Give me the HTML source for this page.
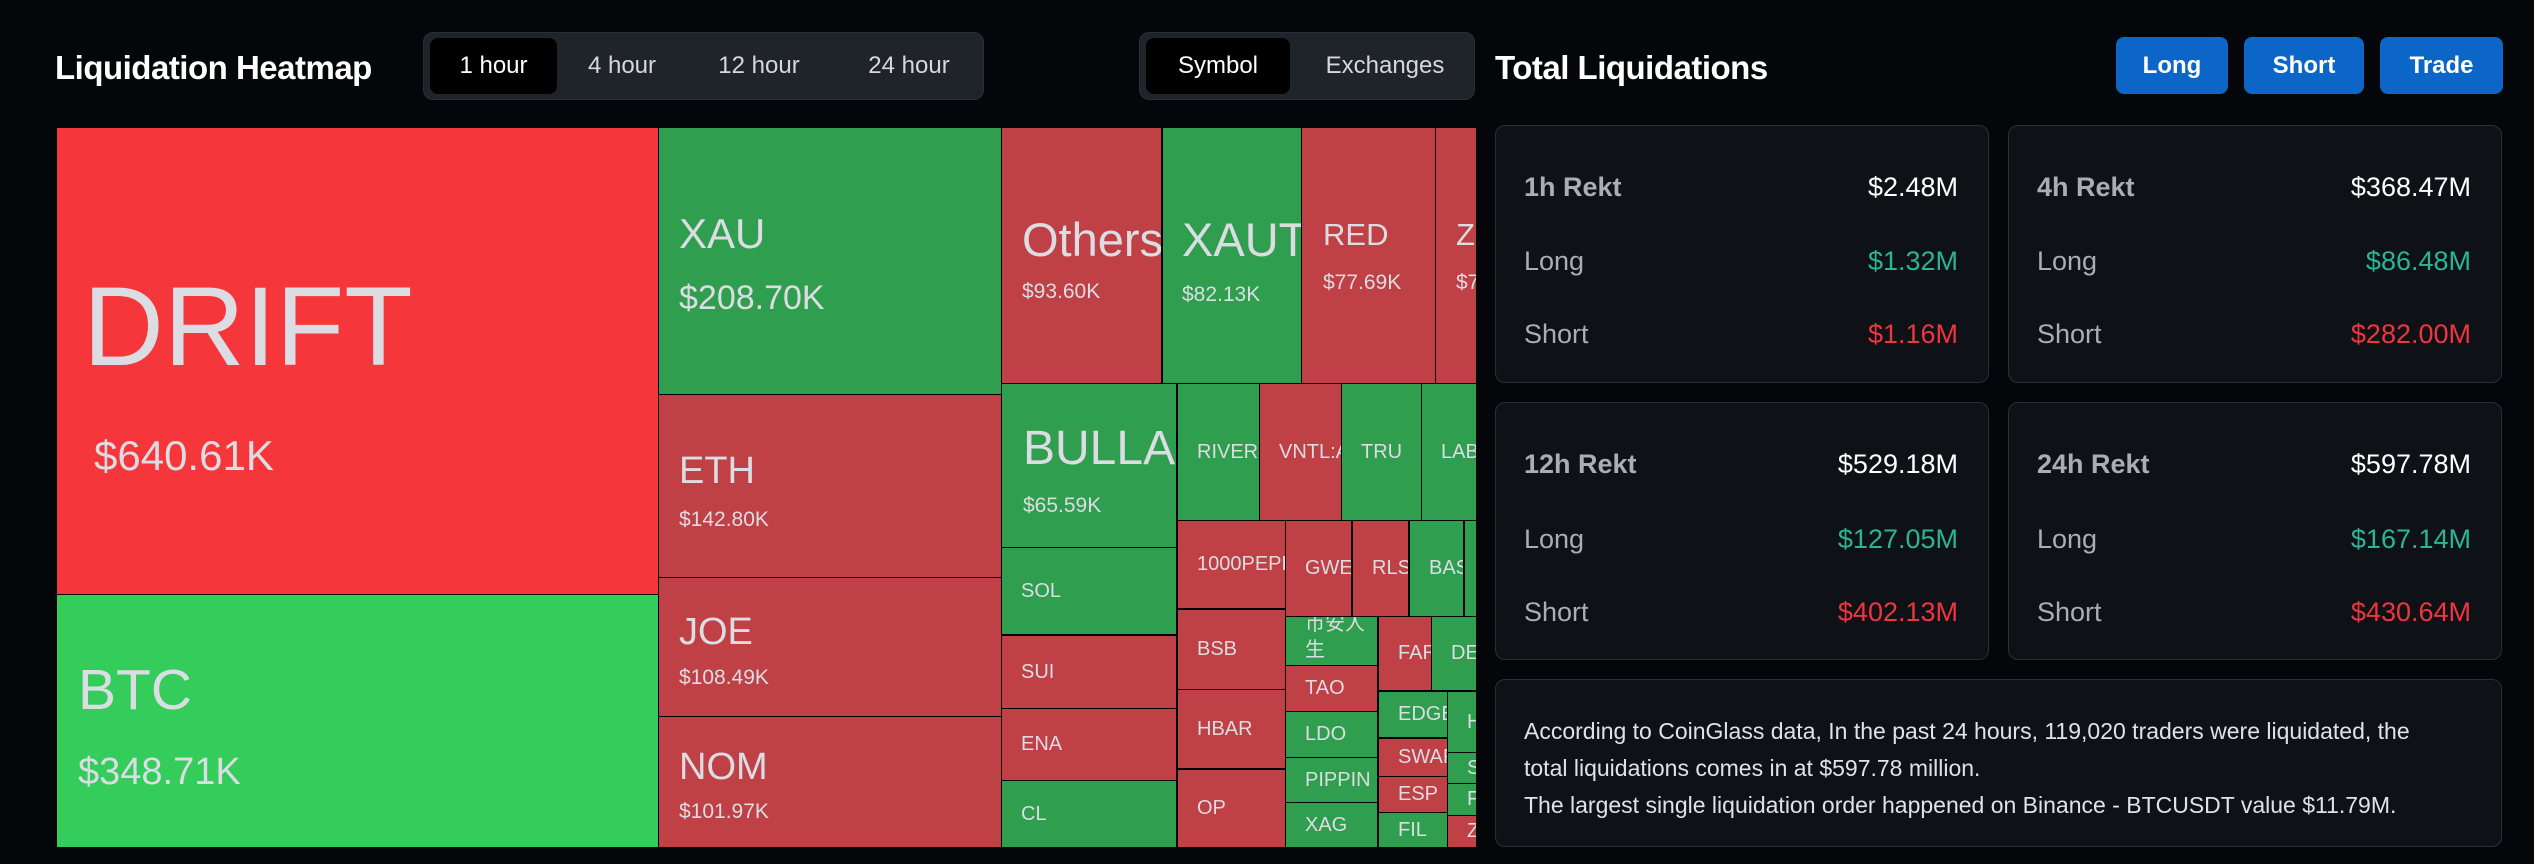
<!DOCTYPE html>
<html><head><meta charset="utf-8"><style>
*{margin:0;padding:0;box-sizing:border-box}
body{width:2534px;height:864px;background:#05060a;font-family:"Liberation Sans","Noto Sans CJK SC",sans-serif;position:relative;overflow:hidden;color:#fff}
.a{position:absolute}
.tm{position:absolute;left:57px;top:128px;width:1419px;height:719px;background:#000;overflow:hidden}
.c{position:absolute;overflow:hidden;color:#dcdde3}
.c span{position:absolute;line-height:1;white-space:nowrap}
.R{background:#bf4045}.G{background:#2f9e4f}.BR{background:#f5363a}.BG{background:#34cc5a}
.s{display:flex;align-items:center;padding-left:19px;font-size:20px;white-space:nowrap}
.tabs{position:absolute;background:#1f232a;border-radius:10px;border:1px solid #2a2e35}
.tab{position:absolute;top:0;height:100%;display:flex;align-items:center;justify-content:center;font-size:24px;color:#d6d8dc}
.act{background:#000;border-radius:8px;color:#fff}
.btn{position:absolute;top:37px;height:57px;background:#0b66c8;border-radius:8px;color:#fff;font-weight:bold;font-size:24px;display:flex;align-items:center;justify-content:center}
.card{position:absolute;background:#0e1217;border:1px solid #2a2f37;border-radius:10px;width:494px;height:258px}
.card div{position:absolute;font-size:27px;line-height:1}
.l{left:28px;color:#a9adb4}
.v{right:30px;color:#fff}
.g{color:#2bb596!important}.r{color:#f0353f!important}
.h{font-weight:600}
</style></head><body>
<div class="a" style="left:55px;top:49px;font-size:33px;font-weight:bold;letter-spacing:-0.5px">Liquidation Heatmap</div>
<div class="tabs" style="left:423px;top:32px;width:561px;height:68px">
<div class="tab act" style="left:6px;top:5px;height:56px;width:127px">1 hour</div>
<div class="tab" style="left:138px;width:120px">4 hour</div>
<div class="tab" style="left:265px;width:140px">12 hour</div>
<div class="tab" style="left:410px;width:150px">24 hour</div>
</div>
<div class="tabs" style="left:1139px;top:32px;width:336px;height:68px">
<div class="tab act" style="left:6px;top:5px;height:56px;width:144px">Symbol</div>
<div class="tab" style="left:155px;width:180px">Exchanges</div>
</div>

<div class="tm">
<div class="c BR" style="left:0;top:0;width:601px;height:466px"><span style="left:26px;top:143px;font-size:112px">DRIFT</span><span style="left:37px;top:307px;font-size:42px">$640.61K</span></div>
<div class="c BG" style="left:0;top:467px;width:601px;height:252px"><span style="left:21px;top:67px;font-size:57px">BTC</span><span style="left:21px;top:158px;font-size:38px">$348.71K</span></div>
<div class="c G" style="left:602px;top:0;width:342px;height:266px"><span style="left:20px;top:85px;font-size:42px">XAU</span><span style="left:20px;top:153px;font-size:34px">$208.70K</span></div>
<div class="c R" style="left:602px;top:267px;width:342px;height:182px"><span style="left:20px;top:57px;font-size:38px">ETH</span><span style="left:20px;top:114px;font-size:21px">$142.80K</span></div>
<div class="c R" style="left:602px;top:450px;width:342px;height:138px"><span style="left:20px;top:35px;font-size:38px">JOE</span><span style="left:20px;top:89px;font-size:21px">$108.49K</span></div>
<div class="c R" style="left:602px;top:589px;width:342px;height:130px"><span style="left:20px;top:31px;font-size:38px">NOM</span><span style="left:20px;top:84px;font-size:21px">$101.97K</span></div>
<div class="c R" style="left:945px;top:0;width:159px;height:255px"><span style="left:20px;top:88px;font-size:47px">Others</span><span style="left:20px;top:153px;font-size:21px">$93.60K</span></div>
<div class="c G" style="left:1106px;top:0;width:138px;height:255px"><span style="left:19px;top:88px;font-size:47px">XAUT</span><span style="left:19px;top:156px;font-size:21px">$82.13K</span></div>
<div class="c R" style="left:1245px;top:0;width:133px;height:255px"><span style="left:21px;top:91px;font-size:31px">RED</span><span style="left:21px;top:144px;font-size:21px">$77.69K</span></div>
<div class="c R" style="left:1379px;top:0;width:40px;height:255px"><span style="left:20px;top:91px;font-size:31px">Z</span><span style="left:20px;top:144px;font-size:21px">$77K</span></div>
<div class="c G" style="left:945px;top:256px;width:174px;height:163px"><span style="left:21px;top:41px;font-size:48px">BULLA</span><span style="left:21px;top:111px;font-size:21px">$65.59K</span></div>
<div class="c G s" style="left:1121px;top:256px;width:81px;height:136px">RIVER</div>
<div class="c R s" style="left:1203px;top:256px;width:81px;height:136px">VNTL:A</div>
<div class="c G s" style="left:1285px;top:256px;width:79px;height:136px">TRU</div>
<div class="c G s" style="left:1365px;top:256px;width:54px;height:136px">LAB</div>
<div class="c G s" style="left:945px;top:420px;width:174px;height:86px">SOL</div>
<div class="c R s" style="left:945px;top:508px;width:174px;height:72px">SUI</div>
<div class="c R s" style="left:945px;top:581px;width:174px;height:71px">ENA</div>
<div class="c G s" style="left:945px;top:653px;width:174px;height:66px">CL</div>
<div class="c R s" style="left:1121px;top:393px;width:107px;height:87px">1000PEPE</div>
<div class="c R s" style="left:1229px;top:393px;width:65px;height:95px">GWEI</div>
<div class="c R s" style="left:1296px;top:393px;width:55px;height:95px">RLS</div>
<div class="c G s" style="left:1353px;top:393px;width:53px;height:95px">BAS</div>
<div class="c G" style="left:1408px;top:393px;width:11px;height:95px"></div>
<div class="c R s" style="left:1121px;top:482px;width:107px;height:79px">BSB</div>
<div class="c R s" style="left:1121px;top:562px;width:107px;height:78px">HBAR</div>
<div class="c R s" style="left:1121px;top:642px;width:107px;height:77px">OP</div>
<div class="c G" style="left:1229px;top:489px;width:91px;height:48px"><span style="left:19px;top:-6px;font-size:20px;line-height:1.3;white-space:normal;width:60px">币安人生</span></div>
<div class="c R s" style="left:1229px;top:538px;width:91px;height:45px">TAO</div>
<div class="c G s" style="left:1229px;top:584px;width:91px;height:45px">LDO</div>
<div class="c G s" style="left:1229px;top:630px;width:91px;height:44px">PIPPIN</div>
<div class="c G s" style="left:1229px;top:675px;width:91px;height:44px">XAG</div>
<div class="c R s" style="left:1322px;top:489px;width:52px;height:73px">FARTCOIN</div>
<div class="c G s" style="left:1375px;top:489px;width:44px;height:73px">DEXE</div>
<div class="c G s" style="left:1322px;top:564px;width:68px;height:45px">EDGE</div>
<div class="c R s" style="left:1322px;top:611px;width:68px;height:37px">SWAP</div>
<div class="c R s" style="left:1322px;top:649px;width:68px;height:35px">ESP</div>
<div class="c G s" style="left:1322px;top:685px;width:68px;height:34px">FIL</div>
<div class="c G s" style="left:1391px;top:564px;width:28px;height:60px">H</div>
<div class="c G s" style="left:1391px;top:625px;width:28px;height:30px">S</div>
<div class="c G s" style="left:1391px;top:656px;width:28px;height:31px">F</div>
<div class="c R s" style="left:1391px;top:688px;width:28px;height:31px">Z</div>
</div>

<div class="a" style="left:1495px;top:49px;font-size:33px;font-weight:bold;letter-spacing:-0.5px">Total Liquidations</div>
<div class="btn" style="left:2116px;width:112px">Long</div>
<div class="btn" style="left:2244px;width:120px">Short</div>
<div class="btn" style="left:2380px;width:123px">Trade</div>

<div class="card" style="left:1495px;top:125px"><div class="l h" style="top:48px">1h Rekt</div><div class="v" style="top:48px">$2.48M</div><div class="l" style="top:122px">Long</div><div class="v g" style="top:122px">$1.32M</div><div class="l" style="top:195px">Short</div><div class="v r" style="top:195px">$1.16M</div></div>
<div class="card" style="left:2008px;top:125px"><div class="l h" style="top:48px">4h Rekt</div><div class="v" style="top:48px">$368.47M</div><div class="l" style="top:122px">Long</div><div class="v g" style="top:122px">$86.48M</div><div class="l" style="top:195px">Short</div><div class="v r" style="top:195px">$282.00M</div></div>
<div class="card" style="left:1495px;top:402px"><div class="l h" style="top:48px">12h Rekt</div><div class="v" style="top:48px">$529.18M</div><div class="l" style="top:123px">Long</div><div class="v g" style="top:123px">$127.05M</div><div class="l" style="top:196px">Short</div><div class="v r" style="top:196px">$402.13M</div></div>
<div class="card" style="left:2008px;top:402px"><div class="l h" style="top:48px">24h Rekt</div><div class="v" style="top:48px">$597.78M</div><div class="l" style="top:123px">Long</div><div class="v g" style="top:123px">$167.14M</div><div class="l" style="top:196px">Short</div><div class="v r" style="top:196px">$430.64M</div></div>
<div class="card" style="left:1495px;top:679px;width:1007px;height:168px"><div style="left:28px;top:33px;font-size:23px;line-height:37px;color:#e0e2e6;width:925px;position:absolute">According to CoinGlass data, In the past 24 hours, 119,020 traders were liquidated, the total liquidations comes in at $597.78 million.<br>The largest single liquidation order happened on Binance - BTCUSDT value $11.79M.</div></div>
</body></html>
